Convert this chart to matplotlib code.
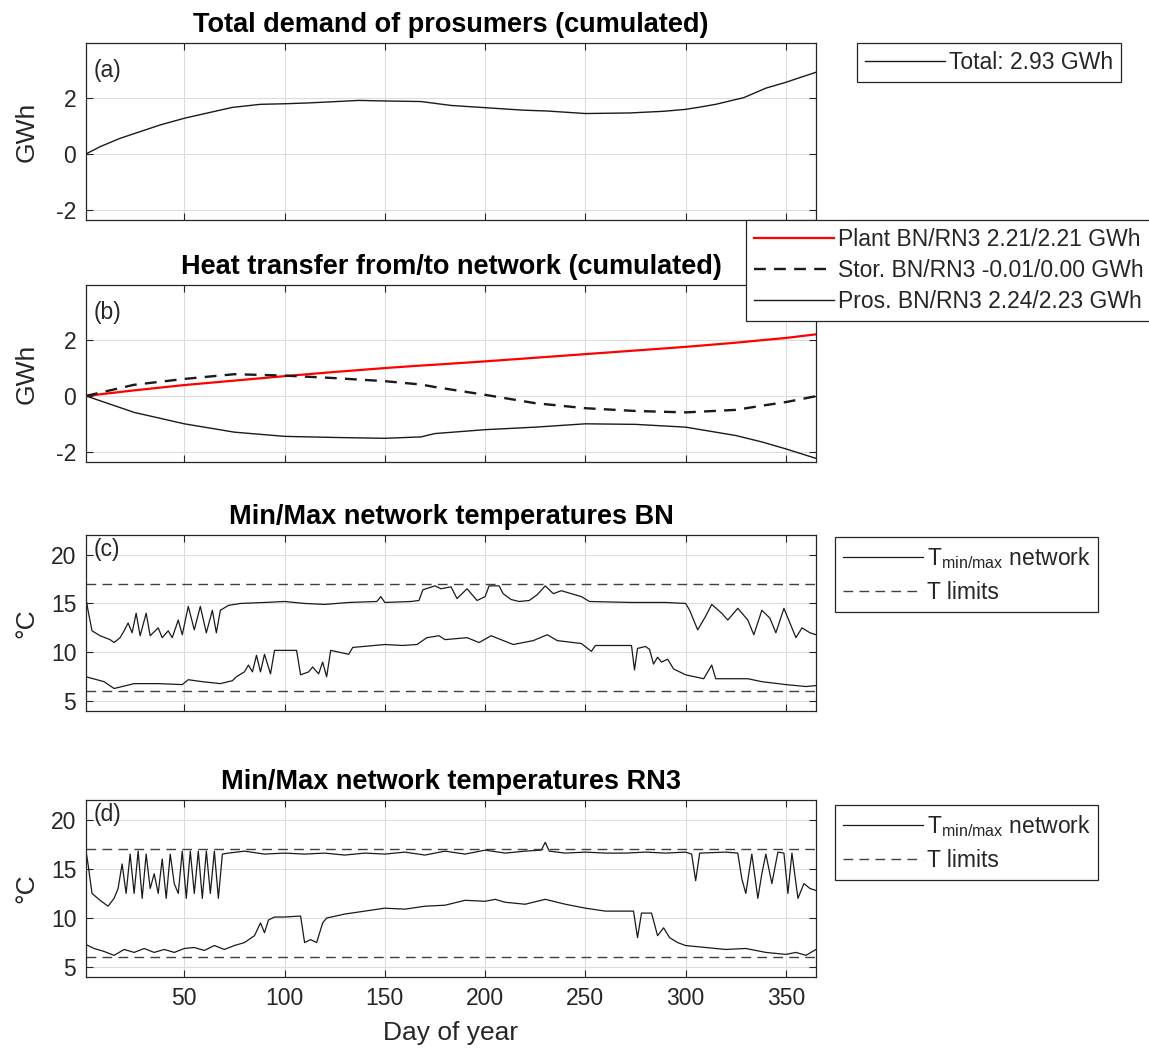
#!/usr/bin/env python3
import numpy as np
import matplotlib
matplotlib.use('Agg')
import matplotlib.pyplot as plt

# ---- values ----
aDay   = [1, 8, 18, 28, 38, 50, 61, 74, 88, 100, 112, 137, 150, 168, 183, 200, 219, 231, 250, 272, 289, 300, 307, 315, 329, 340, 350, 357, 365]
aTotal = [0, 0.26, 0.56, 0.80, 1.04, 1.28, 1.46, 1.67, 1.78, 1.80, 1.83, 1.92, 1.90, 1.88, 1.74, 1.66, 1.57, 1.54, 1.45, 1.47, 1.53, 1.60, 1.68, 1.78, 2.02, 2.36, 2.57, 2.74, 2.93]

bDay   = [1, 25, 50, 75, 100, 125, 150, 168, 175, 200, 225, 250, 275, 300, 325, 338, 350, 365]
bPlant = [0, 0.20, 0.39, 0.55, 0.71, 0.86, 1.00, 1.09, 1.12, 1.24, 1.37, 1.50, 1.63, 1.76, 1.91, 2.00, 2.08, 2.21]
bStor  = [0, 0.40, 0.61, 0.78, 0.73, 0.64, 0.53, 0.41, 0.32, 0.04, -0.26, -0.44, -0.54, -0.59, -0.50, -0.35, -0.22, -0.01]
bPros  = [0, -0.59, -1.00, -1.30, -1.45, -1.49, -1.52, -1.47, -1.35, -1.21, -1.12, -1.00, -1.02, -1.12, -1.42, -1.65, -1.90, -2.24]

cMaxDay = [1, 2, 4, 8, 13, 15, 18, 20, 22, 24, 26, 28, 31, 33, 37, 39, 42, 44, 47, 49, 52, 55, 58, 61, 64, 66, 68, 72, 78, 90, 100, 110, 120, 132, 146, 148, 150, 163, 167, 169, 175, 178, 183, 186, 191, 196, 200, 202, 207, 209, 213, 217, 222, 226, 230, 234, 238, 243, 248, 252, 273, 290, 300, 302, 306, 310, 313, 318, 321, 326, 331, 334, 338, 342, 345, 349, 352, 355, 358, 362, 365]
cMax    = [15.5, 14.3, 12.2, 11.7, 11.3, 11.0, 11.5, 12.2, 13.0, 12.0, 14.0, 11.7, 14.0, 11.7, 12.5, 11.5, 12.2, 11.5, 13.3, 11.8, 14.7, 12.3, 14.7, 12.0, 14.3, 12.0, 14.3, 14.8, 15.0, 15.1, 15.2, 15.0, 14.9, 15.1, 15.2, 15.7, 15.1, 15.2, 15.3, 16.4, 16.8, 16.5, 16.7, 15.5, 16.5, 15.3, 15.7, 16.8, 16.8, 16.0, 15.4, 15.2, 15.3, 15.9, 16.8, 16.0, 16.3, 16.0, 15.7, 15.2, 15.1, 15.1, 15.0, 14.3, 12.3, 13.7, 14.9, 14.0, 13.3, 14.5, 13.3, 11.8, 14.3, 13.5, 12.0, 14.5, 13.0, 11.5, 12.5, 12.0, 11.8]
cMinDay = [1, 10, 15, 25, 37, 49, 52, 59, 68, 74, 76, 80, 82, 84, 86, 88, 90, 93, 95, 100, 106, 108, 112, 114, 117, 119, 121, 123, 132, 134, 150, 159, 166, 171, 177, 180, 191, 197, 203, 214, 224, 231, 236, 248, 253, 255, 273, 274.5, 276, 280, 282, 284, 286, 288, 291, 294, 300, 309, 313, 315, 331, 338, 350, 360, 365]
cMin    = [7.5, 7.0, 6.3, 6.8, 6.8, 6.7, 7.2, 7.0, 6.8, 7.1, 7.5, 8.0, 8.7, 8.0, 9.7, 8.0, 9.8, 7.8, 10.2, 10.2, 10.2, 7.7, 8.0, 8.5, 7.8, 9.0, 7.5, 10.2, 9.8, 10.5, 10.8, 10.7, 10.8, 11.5, 11.7, 11.3, 11.5, 11.0, 11.7, 10.8, 11.2, 11.8, 11.2, 10.9, 10.1, 10.7, 10.7, 8.2, 10.4, 10.6, 10.3, 8.8, 9.5, 9.0, 9.3, 8.3, 7.7, 7.3, 8.7, 7.3, 7.3, 7.0, 6.7, 6.5, 6.6]

dMaxDay = [1, 2, 4, 8, 12, 15, 17, 19, 21, 23, 25, 27, 29, 31, 33, 35, 37, 39, 41, 43, 45, 47, 49, 51, 53, 55, 57, 59, 61, 63, 65, 67, 69, 72, 80, 90, 100, 110, 120, 130, 140, 150, 160, 170, 180, 190, 200, 210, 220, 228, 230, 232, 240, 250, 260, 270, 280, 290, 300, 303, 305, 307, 320, 326, 328, 330, 333, 336, 338, 340, 343, 346, 349, 351, 353, 356, 359, 362, 365]
dMax    = [16.8, 15.5, 12.5, 11.8, 11.2, 12.0, 13.0, 15.5, 12.5, 16.5, 12.5, 16.8, 12.0, 16.5, 13.0, 14.5, 12.5, 16.0, 12.0, 16.5, 13.5, 12.5, 16.8, 12.0, 16.8, 12.5, 16.8, 12.0, 16.8, 12.5, 16.8, 12.0, 16.5, 16.6, 16.8, 16.5, 16.6, 16.5, 16.6, 16.4, 16.6, 16.5, 16.7, 16.4, 16.8, 16.5, 16.9, 16.6, 16.8, 16.9, 17.7, 16.8, 16.6, 16.7, 16.6, 16.6, 16.7, 16.6, 16.7, 16.5, 13.8, 16.6, 16.7, 16.6, 14.0, 12.5, 16.5, 12.0, 14.5, 16.5, 13.5, 16.7, 16.6, 12.5, 16.6, 12.0, 13.5, 13.0, 12.8]
dMinDay = [1, 5, 10, 15, 20, 25, 30, 35, 40, 45, 50, 55, 60, 65, 70, 75, 80, 85, 88, 90, 92, 95, 100, 108, 110, 113, 116, 119, 121, 130, 140, 150, 160, 170, 180, 190, 200, 205, 210, 220, 230, 240, 250, 260, 274, 276, 278, 283, 286, 289, 292, 296, 300, 310, 320, 330, 340, 350, 355, 360, 365]
dMin    = [7.3, 6.9, 6.6, 6.2, 6.8, 6.5, 6.9, 6.5, 6.8, 6.5, 6.9, 7.0, 6.7, 7.2, 6.8, 7.2, 7.5, 8.2, 9.5, 8.5, 9.8, 10.1, 10.1, 10.2, 7.5, 7.8, 7.5, 9.5, 10.0, 10.4, 10.7, 11.0, 10.9, 11.2, 11.3, 11.8, 11.7, 11.9, 11.6, 11.4, 11.9, 11.4, 11.0, 10.7, 10.7, 8.0, 10.5, 10.5, 8.2, 9.0, 8.0, 7.5, 7.2, 7.0, 6.8, 6.9, 6.5, 6.3, 6.5, 6.2, 6.8]

tLimits = [6, 17]
xTicks = [50, 100, 150, 200, 250, 300, 350]

W, H = 1149, 1056
FS = 16.5
plt.rcParams['font.family'] = ['Liberation Sans', 'DejaVu Sans']
plt.rcParams['font.size'] = FS
plt.rcParams['axes.unicode_minus'] = False

def pos(l, t, r, b) :
	# pixel box -> figure fraction
	return [l/W, 1-b/H, (r-l)/W, (b-t)/H]

def styleAxes(ax, ylim, yticks, title, tag, tagY, ylabel, showX=False) :
	ax.set_xlim(1, 365)
	ax.set_ylim(*ylim)
	ax.set_xticks(xTicks)
	ax.set_yticks(yticks)
	ax.grid(True, color='#dcdcdc', lw=0.8)
	ax.set_axisbelow(True)
	ax.tick_params(direction='in', length=5, width=0.8, top=True, right=True, color='#262626',
		labelcolor='#262626', labelsize=FS, pad=7)
	if not showX : ax.set_xticklabels([])
	for s in ax.spines.values() :
		s.set_color('#262626')
		s.set_linewidth(0.9)
	ax.set_title(title, fontsize=19.5, fontweight='bold', pad=8)
	ax.text(5, tagY, tag, fontsize=FS, va='center', ha='left', color='#262626')
	ax.set_ylabel(ylabel, fontsize=FS + 2.5, color='#262626')
	ax.yaxis.set_label_coords(-0.065, 0.5)

def addLegend(ax, x, y, **kw) :
	leg = ax.legend(loc='upper left', bbox_to_anchor=(x/W, 1-y/H), bbox_transform=fig.transFigure,
		borderaxespad=0, fancybox=False, framealpha=1, edgecolor='#262626', fontsize=FS,
		handlelength=3.5, handletextpad=0.15, borderpad=0.35, **kw)
	leg.get_frame().set_linewidth(0.9)
	for t in leg.get_texts() : t.set_color('#262626')
	return leg

fig = plt.figure(figsize=(W/100, H/100), dpi=100)

# (a) total demand
ax = fig.add_axes(pos(86, 43, 816, 220))
ax.plot(aDay, aTotal, color='#1a1a1a', lw=1.0, label='Total: 2.93 GWh')
styleAxes(ax, (-2.37, 3.98), [-2, 0, 2], 'Total demand of prosumers (cumulated)', '(a)', 3.0, 'GWh')
addLegend(ax, 857, 43)

# (b) heat transfer
ax = fig.add_axes(pos(86, 285, 816, 462))
ax.plot(bDay, bPlant, color='#ff0000', lw=1.6, label='Plant BN/RN3 2.21/2.21 GWh')
ax.plot(bDay, bStor, color='#1a1a1a', lw=1.7, dashes=(5, 3.5), label='Stor. BN/RN3 -0.01/0.00 GWh')
ax.plot(bDay, bPros, color='#1a1a1a', lw=1.0, label='Pros. BN/RN3 2.24/2.23 GWh')
styleAxes(ax, (-2.37, 3.98), [-2, 0, 2], 'Heat transfer from/to network (cumulated)', '(b)', 3.0, 'GWh')
addLegend(ax, 746, 220, labelspacing=0.35)

# (c) and (d) temperatures
tempPanels = [
	(535, 711, cMaxDay, cMax, cMinDay, cMin, 'Min/Max network temperatures BN', '(c)'),
	(800, 977, dMaxDay, dMax, dMinDay, dMin, 'Min/Max network temperatures RN3', '(d)'),
]
for top, bot, xMax, yMax, xMin, yMin, title, tag in tempPanels :
	ax = fig.add_axes(pos(86, top, 816, bot))
	ax.plot(xMax, yMax, color='#1a1a1a', lw=0.9, label=r'T$_{\mathregular{min/max}}$ network')
	ax.plot(xMin, yMin, color='#1a1a1a', lw=0.9)
	for i, t in enumerate(tLimits) :
		ax.axhline(t, color='#404040', lw=1.0, dashes=(7, 4.5), label='T limits' if i == 0 else None)
	last = tag == '(d)'
	styleAxes(ax, (4, 22), [5, 10, 15, 20], title, tag, 20.5, '°C', showX=last)
	addLegend(ax, 835, top + 2 if not last else top + 5, labelspacing=0.45)
	if last : ax.set_xlabel('Day of year', fontsize=FS + 2.5, labelpad=8, color='#262626')

fig.savefig('out.png', dpi=100)
